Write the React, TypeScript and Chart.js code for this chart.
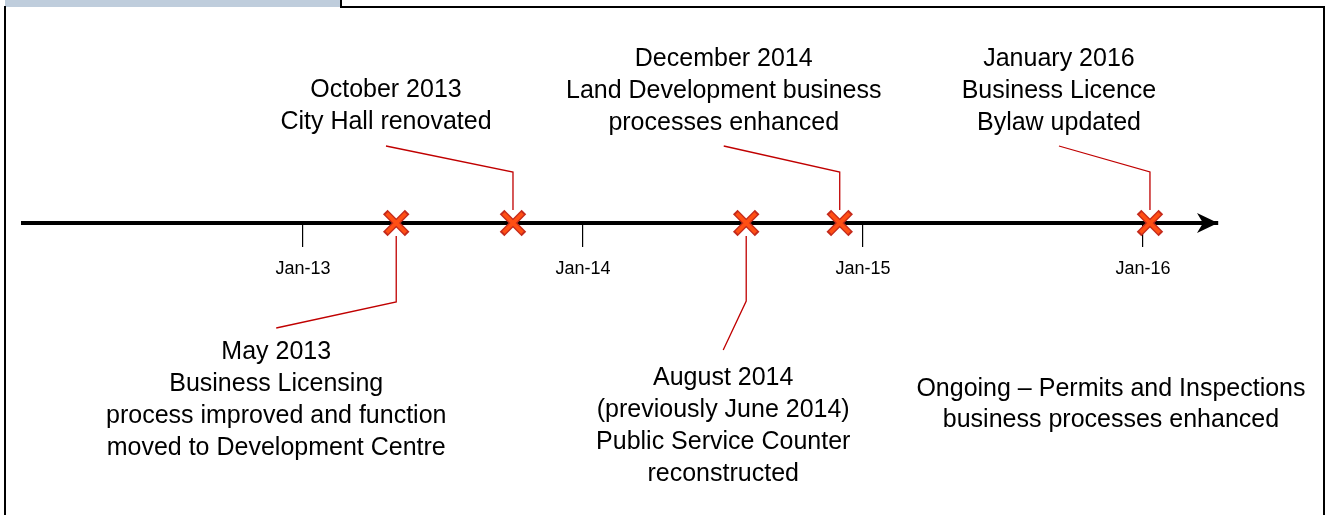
import { useEffect, useRef } from "react";
import { Chart, registerables } from "chart.js";

Chart.register(...registerables);

// ---------- data ----------
const eventNames = ["May 2013", "October 2013", "August 2014", "December 2014", "January 2016"];
const eventDates = [2013.333, 2013.75, 2014.583, 2014.917, 2016.025];
const eventLevels = [0, 0, 0, 0, 0];
const eventDescriptions: string[][] = [
  ["May 2013", "Business Licensing", "process improved and function", "moved to Development Centre"],
  ["October 2013", "City Hall renovated"],
  ["August 2014", "(previously June 2014)", "Public Service Counter", "reconstructed"],
  ["December 2014", "Land Development business", "processes enhanced"],
  ["January 2016", "Business Licence", "Bylaw updated"],
];
const ongoingNote = ["Ongoing – Permits and Inspections", "business processes enhanced"];
const tickValues = [2013, 2014, 2015, 2016];
const tickLabels = ["Jan-13", "Jan-14", "Jan-15", "Jan-16"];
const axisStart = 2012;
const axisEnd = 2016.268;

// ---------- layout of the call-outs (pixel offsets from each marker) ----------
const callouts = [
  { dir: 1, elbow: 79, endDx: -120, endDy: 105, textDy: 129 },
  { dir: -1, elbow: 51, endDx: -127, endDy: 77, textDy: 133 },
  { dir: 1, elbow: 78, endDx: -23, endDy: 127, textDy: 155 },
  { dir: -1, elbow: 51, endDx: -116, endDy: 77, textDy: 164 },
  { dir: -1, elbow: 51, endDx: -91, endDy: 77, textDy: 164 },
];
const LINE_H = 32;
const FONT = '"Liberation Sans", Arial, sans-serif';

const framePlugin = {
  id: "frame",
  beforeDraw(chart: any) {
    const ctx = chart.ctx;
    const w = chart.width;
    const h = chart.height;
    ctx.save();
    ctx.fillStyle = "#ffffff";
    ctx.fillRect(0, 0, w, h);
    ctx.fillStyle = "#BFCDDC";
    ctx.fillRect(5, 0, 335, 7);
    ctx.strokeStyle = "#000000";
    ctx.lineWidth = 2;
    ctx.beginPath();
    ctx.moveTo(5, 6);
    ctx.lineTo(5, h);
    ctx.moveTo(341, 0);
    ctx.lineTo(341, 7);
    ctx.lineTo(1324, 7);
    ctx.lineTo(1324, h);
    ctx.stroke();
    ctx.restore();
  },
};

const calloutPlugin = {
  id: "callouts",
  beforeDatasetsDraw(chart: any) {
    const ctx = chart.ctx;
    const xs = chart.scales.x;
    const axisY = xs.top;
    ctx.save();
    ctx.strokeStyle = "#C00000";
    ctx.lineWidth = 1.3;
    eventDates.forEach((d, i) => {
      const c = callouts[i];
      const x = xs.getPixelForValue(d);
      ctx.beginPath();
      ctx.moveTo(x, axisY + c.dir * 13);
      ctx.lineTo(x, axisY + c.dir * c.elbow);
      ctx.lineTo(x + c.endDx, axisY + c.dir * c.endDy);
      ctx.stroke();
    });
    ctx.restore();
  },
  afterDraw(chart: any) {
    const ctx = chart.ctx;
    const xs = chart.scales.x;
    const axisY = xs.top;
    ctx.save();
    // arrow head
    const r = xs.right;
    ctx.fillStyle = "#000000";
    ctx.beginPath();
    ctx.moveTo(r, axisY);
    ctx.lineTo(r - 21, axisY - 10);
    ctx.lineTo(r - 15, axisY);
    ctx.lineTo(r - 21, axisY + 10);
    ctx.closePath();
    ctx.fill();

    ctx.font = `25px ${FONT}`;
    ctx.fillStyle = "#000000";
    ctx.textAlign = "center";
    ctx.textBaseline = "middle";
    eventDates.forEach((d, i) => {
      const c = callouts[i];
      const x = xs.getPixelForValue(d) + c.endDx;
      const y0 = axisY + c.dir * c.textDy;
      eventDescriptions[i].forEach((line, j) => {
        ctx.fillText(line, x, y0 + j * LINE_H);
      });
    });
    const nx = xs.getPixelForValue(tickValues[tickValues.length - 1]) - 32;
    ongoingNote.forEach((line, j) => {
      ctx.fillText(line, nx, axisY + 166 + j * 31);
    });
    ctx.restore();
  },
};

export default function App() {
  const ref = useRef<HTMLCanvasElement | null>(null);
  useEffect(() => {
    if (!ref.current) return;
    const chart = new Chart(ref.current, {
      type: "scatter",
      data: {
        datasets: [
          {
            label: eventNames.join(","),
            data: eventDates.map((d, i) => ({ x: d, y: eventLevels[i] })),
            pointStyle: "crossRot",
            pointRadius: 13.5,
            pointBorderWidth: 3.8,
            pointBorderColor: "#FF4F14",
            pointBackgroundColor: "#FF4F14",
            pointHoverRadius: 13.5,
            clip: false,
          } as any,
          {
            label: "outline",
            data: eventDates.map((d, i) => ({ x: d, y: eventLevels[i] })),
            pointStyle: "crossRot",
            pointRadius: 15.5,
            pointBorderWidth: 6.5,
            pointBorderColor: "#C42A1C",
            pointBackgroundColor: "#C42A1C",
            pointHoverRadius: 15.5,
            clip: false,
          } as any,
        ],
      },
      options: {
        animation: false,
        responsive: false,
        events: [],
        layout: { padding: { left: 23, right: 107, top: 0, bottom: 0 } },
        plugins: { legend: { display: false }, tooltip: { enabled: false } },
        scales: {
          x: {
            type: "linear",
            position: "bottom",
            min: axisStart,
            max: axisEnd,
            afterBuildTicks: (axis: any) => {
              axis.ticks = tickValues.map((v) => ({ value: v }));
            },
            afterFit: (axis: any) => {
              axis.height = 292;
            },
            grid: {
              display: true,
              drawOnChartArea: false,
              drawTicks: true,
              tickLength: 24,
              color: "#000000",
              lineWidth: 1.2,
            },
            border: { display: true, width: 4, color: "#000000" },
            ticks: {
              autoSkip: false,
              maxRotation: 0,
              padding: 11,
              color: "#000000",
              font: { family: FONT, size: 18 },
              callback: (_v: any, index: number) => tickLabels[index],
            },
          },
          y: { display: false, min: 0, max: 1 },
        },
      },
      plugins: [framePlugin, calloutPlugin],
    });
    return () => chart.destroy();
  }, []);
  return (
    <div style={{ position: "fixed", left: 0, top: 0, width: 1325, height: 515 }}>
      <canvas ref={ref} width={1325} height={515} style={{ display: "block" }} />
    </div>
  );
}
